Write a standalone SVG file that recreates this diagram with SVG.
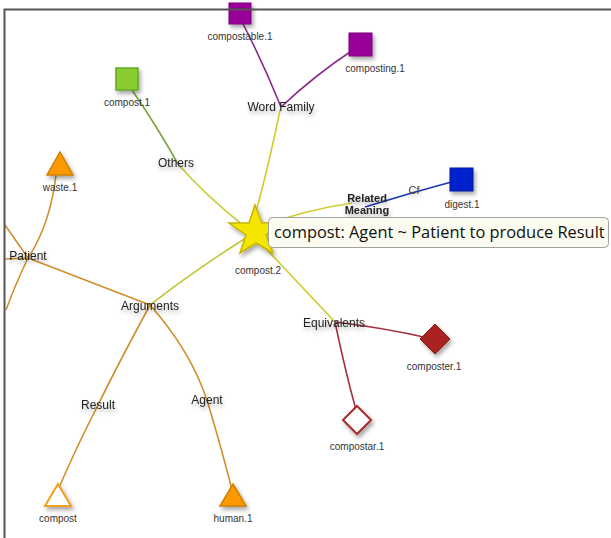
<svg xmlns="http://www.w3.org/2000/svg" width="611" height="538" viewBox="0 0 611 538">
<style>
.lbl{font-family:"Liberation Sans",Arial,sans-serif;font-size:12px;fill:#222;text-anchor:middle;filter:url(#ts)}
.nl{font-family:"Liberation Sans",Arial,sans-serif;font-size:10px;fill:#333;text-anchor:middle}
.e{fill:none;stroke-width:1.6}
.y{stroke:#d2cc2e}
.p{stroke:#8a2a8a}
.o{stroke:#cf8f2c}
.r{stroke:#a83040}
</style>
<defs>
<filter id="sh" x="-50%" y="-50%" width="200%" height="200%"><feDropShadow dx="2" dy="3" stdDeviation="2" flood-color="#000" flood-opacity="0.35"/></filter>
<filter id="ts" x="-30%" y="-50%" width="160%" height="220%"><feDropShadow dx="1" dy="3" stdDeviation="2" flood-color="#000" flood-opacity="0.3"/></filter>
</defs>
<rect width="611" height="538" fill="#fff"/>
<g id="connectors">
<path class="e y" d="M256 212 Q270 160 280 110"/>
<path class="e p" d="M281 107 Q262 60 240 18"/>
<path class="e p" d="M281 107 Q315 75 353 50"/>
<path class="e" stroke="#7aa23c" d="M132 90 Q158 128 178 164"/>
<path class="e" stroke="#c8cc36" d="M178 164 Q205 195 244 226"/>
<path class="e y" d="M262 226 Q305 210 352 203"/>
<path class="e" stroke="#1a38b4" stroke-width="2.6" d="M365 207 Q410 193 455 181" fill="none"/>
<path class="e" stroke="#c2c63a" d="M246 238 Q195 270 150 305"/>
<path class="e o" d="M150 305 Q90 282 28 258"/>
<path class="e o" d="M5 225 L28 258"/>
<path class="e o" d="M5 259 L28 258"/>
<path class="e o" d="M56 175 Q50 225 28 258 Q15 285 6 310"/>
<path class="e o" d="M150 305 Q115 370 98 405 Q75 450 58 490"/>
<path class="e o" d="M150 305 Q190 350 207 400 Q222 450 232 490"/>
<path class="e y" d="M258 240 Q300 285 335 322"/>
<path class="e r" d="M335 322 Q385 328 428 338"/>
<path class="e r" d="M335 322 Q345 370 356 410"/>
</g>
<g id="compostable.1"><rect x="229" y="3" width="22" height="21" fill="#990099" stroke="#7a007a" filter="url(#sh)"/><text class="nl" x="240" y="40">compostable.1</text></g>
<g id="composting.1"><rect x="349" y="33" width="23" height="23" fill="#990099" stroke="#7a007a" filter="url(#sh)"/><text class="nl" x="375" y="72">composting.1</text></g>
<g id="compost.1"><rect x="116" y="68" width="22" height="22" fill="#88cc33" stroke="#66a626" stroke-width="1.5" filter="url(#sh)"/><text class="nl" x="127" y="106">compost.1</text></g>
<g id="digest.1"><rect x="450" y="168" width="23" height="23" fill="#0022cc" stroke="#0018a0" filter="url(#sh)"/><text class="nl" x="462" y="208">digest.1</text></g>
<g id="waste.1"><polygon points="60,152 73,175 47,175" fill="#ff9900" stroke="#d07f00" stroke-width="1.5" filter="url(#sh)"/><text class="nl" x="60" y="191">waste.1</text></g>
<g id="compost"><polygon points="58,484 71,506 45,506" fill="#fff" stroke="#f0a020" stroke-width="2" filter="url(#sh)"/><text class="nl" x="58" y="522">compost</text></g>
<g id="human.1"><polygon points="233,484 246,506 220,506" fill="#ff9900" stroke="#d07f00" stroke-width="1.5" filter="url(#sh)"/><text class="nl" x="233" y="522">human.1</text></g>
<g id="composter.1"><polygon points="435,324 450,339 435,354 420,339" fill="#aa2222" stroke="#8a1a1a" filter="url(#sh)"/><text class="nl" x="434" y="370">composter.1</text></g>
<g id="compostar.1"><polygon points="357,406 371,420 357,434 343,420" fill="#fff" stroke="#a82a2a" stroke-width="2" filter="url(#sh)"/><text class="nl" x="357" y="450">compostar.1</text></g>
<g id="compost.2"><polygon points="255,205 262,223 281,222 266,235 273,253 256,243 240,253 246,235 229,223 249,223" fill="#f5e600" stroke="#c8b400" stroke-width="1.5" filter="url(#sh)"/><text class="nl" x="258" y="274">compost.2</text></g>
<g id="Word Family"><text class="lbl" x="281" y="111">Word Family</text></g>
<g id="Others"><text class="lbl" x="176" y="167">Others</text></g>
<g id="Related Meaning"><text class="lbl" x="367" y="202" style="font-weight:bold;font-size:11px">Related</text><text class="lbl" x="367" y="214" style="font-weight:bold;font-size:11px">Meaning</text></g>
<g id="Cf"><text class="lbl" x="414" y="194" style="font-size:11px;fill:#444">Cf</text></g>
<g id="Patient"><text class="lbl" x="28" y="260">Patient</text></g>
<g id="Arguments"><text class="lbl" x="150" y="310">Arguments</text></g>
<g id="Result"><text class="lbl" x="98" y="409">Result</text></g>
<g id="Agent"><text class="lbl" x="207" y="404">Agent</text></g>
<g id="Equivalents"><text class="lbl" x="334" y="327">Equivalents</text></g>
<g id="tooltip"><rect x="268.5" y="217.5" width="340" height="30" rx="4" fill="#fbfbef" stroke="#a0a0a0"/><text x="274" y="238" font-family="Open Sans,sans-serif" font-size="16.4" fill="#111">compost: Agent ~ Patient to produce Result</text></g>
<path d="M4.5 538 V9.5 H611" fill="none" stroke="#555" stroke-width="2"/>
</svg>
